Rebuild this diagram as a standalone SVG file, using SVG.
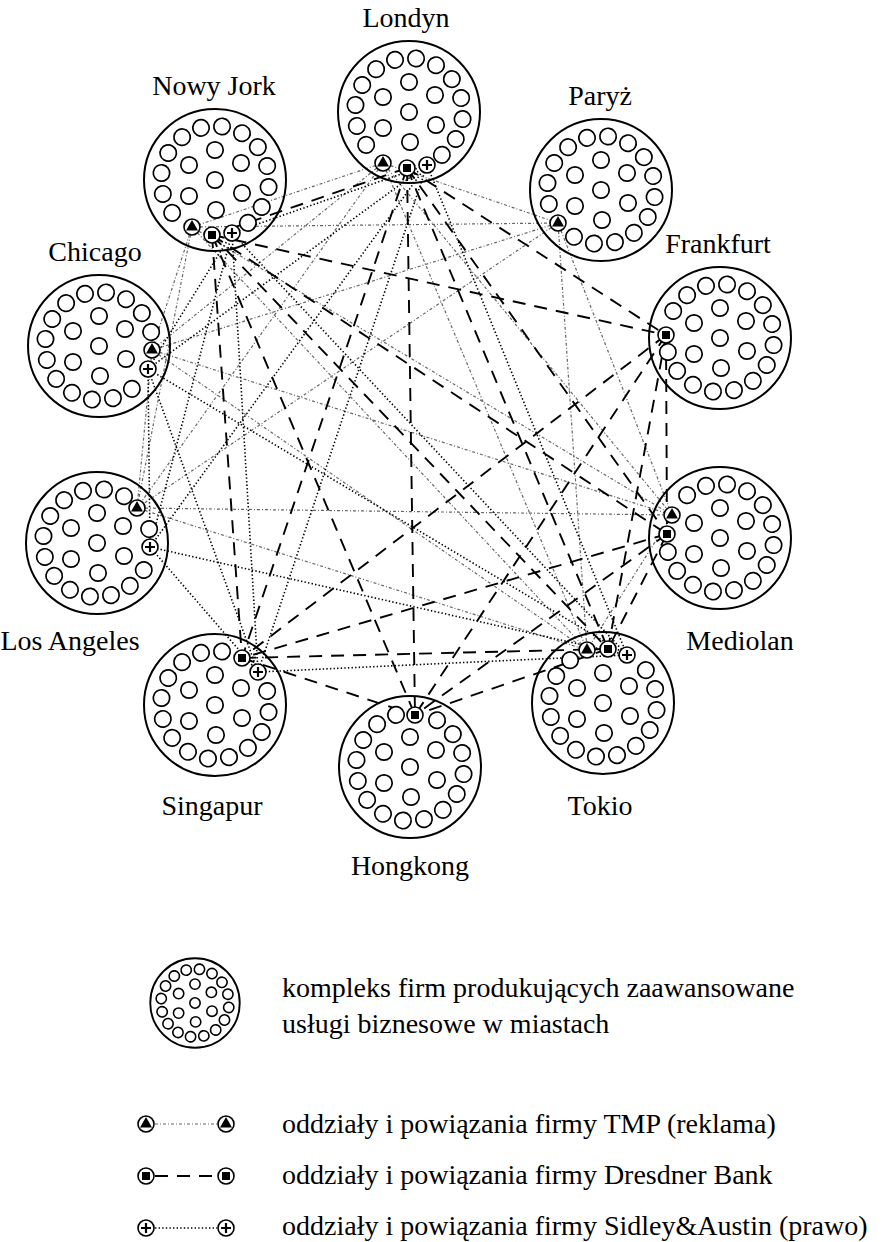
<svg xmlns="http://www.w3.org/2000/svg" xmlns:xlink="http://www.w3.org/1999/xlink" width="892" height="1242" viewBox="0 0 892 1242">
<style>
text{font-family:"Liberation Serif","Times New Roman",serif;font-size:28px;fill:#000}
.lbl{text-anchor:middle}
.big{fill:none;stroke:#000}
.sm{fill:#fff;stroke:#000}
.city{stroke-width:1.7}
.city .big{stroke-width:2}
.sym{fill:#fff;stroke:#000;stroke-width:1.6}
.tmp{stroke:#666;stroke-width:1.2;stroke-dasharray:3 2 1 2;fill:none}
.dre{stroke:#000;stroke-width:1.9;stroke-dasharray:13 9;fill:none}
.sid{stroke:#000;stroke-width:1.6;stroke-dasharray:1.4 2.2;fill:none}
</style>
<defs>
<circle id="rc" cx="0" cy="-54" r="8.2" class="sm"/>
<g id="inner">
<circle class="sm" cx="0" cy="-30" r="8.2"/><circle class="sm" cx="-26" cy="-15" r="8.2"/><circle class="sm" cx="26" cy="-17" r="8.2"/><circle class="sm" cx="0" cy="0" r="8.2"/><circle class="sm" cx="-26" cy="16" r="8.2"/><circle class="sm" cx="27" cy="13" r="8.2"/><circle class="sm" cx="1" cy="30" r="8.2"/>
</g>
<g id="sT"><circle r="8" class="sym"/><path d="M0,-7 L6,3.6 L-6,3.6Z" fill="#000"/></g>
<g id="sS"><circle r="8" class="sym"/><rect x="-4" y="-4" width="8" height="8" fill="#000"/></g>
<g id="sP"><circle r="8" class="sym"/><path d="M-5,0H5M0,-5V5" stroke="#000" stroke-width="2.2"/></g>
</defs>

<g id="connectors">
<g id="tmp-links">
<line class="tmp" x1="383" y1="163" x2="192" y2="227"/>
<line class="tmp" x1="383" y1="163" x2="558" y2="223"/>
<line class="tmp" x1="383" y1="163" x2="152" y2="350"/>
<line class="tmp" x1="383" y1="163" x2="137" y2="508"/>
<line class="tmp" x1="383" y1="163" x2="672" y2="515"/>
<line class="tmp" x1="383" y1="163" x2="587" y2="650"/>
<line class="tmp" x1="192" y1="227" x2="558" y2="223"/>
<line class="tmp" x1="192" y1="227" x2="152" y2="350"/>
<line class="tmp" x1="192" y1="227" x2="137" y2="508"/>
<line class="tmp" x1="192" y1="227" x2="672" y2="515"/>
<line class="tmp" x1="192" y1="227" x2="587" y2="650"/>
<line class="tmp" x1="558" y1="223" x2="152" y2="350"/>
<line class="tmp" x1="558" y1="223" x2="137" y2="508"/>
<line class="tmp" x1="558" y1="223" x2="672" y2="515"/>
<line class="tmp" x1="558" y1="223" x2="587" y2="650"/>
<line class="tmp" x1="152" y1="350" x2="137" y2="508"/>
<line class="tmp" x1="152" y1="350" x2="672" y2="515"/>
<line class="tmp" x1="152" y1="350" x2="587" y2="650"/>
<line class="tmp" x1="137" y1="508" x2="672" y2="515"/>
<line class="tmp" x1="137" y1="508" x2="587" y2="650"/>
<line class="tmp" x1="672" y1="515" x2="587" y2="650"/>
</g>
<g id="dresdner-links">
<line class="dre" x1="407" y1="168" x2="212" y2="235"/>
<line class="dre" x1="407" y1="168" x2="666" y2="335"/>
<line class="dre" x1="407" y1="168" x2="667" y2="534"/>
<line class="dre" x1="407" y1="168" x2="608" y2="649"/>
<line class="dre" x1="407" y1="168" x2="242" y2="658"/>
<line class="dre" x1="407" y1="168" x2="415" y2="715"/>
<line class="dre" x1="212" y1="235" x2="666" y2="335"/>
<line class="dre" x1="212" y1="235" x2="667" y2="534"/>
<line class="dre" x1="212" y1="235" x2="608" y2="649"/>
<line class="dre" x1="212" y1="235" x2="242" y2="658"/>
<line class="dre" x1="212" y1="235" x2="415" y2="715"/>
<line class="dre" x1="666" y1="335" x2="667" y2="534"/>
<line class="dre" x1="666" y1="335" x2="608" y2="649"/>
<line class="dre" x1="666" y1="335" x2="242" y2="658"/>
<line class="dre" x1="666" y1="335" x2="415" y2="715"/>
<line class="dre" x1="667" y1="534" x2="608" y2="649"/>
<line class="dre" x1="667" y1="534" x2="242" y2="658"/>
<line class="dre" x1="667" y1="534" x2="415" y2="715"/>
<line class="dre" x1="608" y1="649" x2="242" y2="658"/>
<line class="dre" x1="608" y1="649" x2="415" y2="715"/>
<line class="dre" x1="242" y1="658" x2="415" y2="715"/>
</g>
<g id="sidley-links">
<line class="sid" x1="427" y1="165" x2="232" y2="233"/>
<line class="sid" x1="427" y1="165" x2="148" y2="369"/>
<line class="sid" x1="427" y1="165" x2="150" y2="547"/>
<line class="sid" x1="427" y1="165" x2="258" y2="672"/>
<line class="sid" x1="427" y1="165" x2="627" y2="655"/>
<line class="sid" x1="232" y1="233" x2="148" y2="369"/>
<line class="sid" x1="232" y1="233" x2="150" y2="547"/>
<line class="sid" x1="232" y1="233" x2="258" y2="672"/>
<line class="sid" x1="232" y1="233" x2="627" y2="655"/>
<line class="sid" x1="148" y1="369" x2="150" y2="547"/>
<line class="sid" x1="148" y1="369" x2="258" y2="672"/>
<line class="sid" x1="148" y1="369" x2="627" y2="655"/>
<line class="sid" x1="150" y1="547" x2="258" y2="672"/>
<line class="sid" x1="150" y1="547" x2="627" y2="655"/>
<line class="sid" x1="258" y1="672" x2="627" y2="655"/>
</g>
</g>

<g id="londyn" class="city" transform="translate(409,112)">
<circle r="71" class="big"/><use href="#inner"/>
<use href="#rc" transform="rotate(-15)"/><use href="#rc" transform="rotate(7.5)"/><use href="#rc" transform="rotate(30)"/><use href="#rc" transform="rotate(52.5)"/><use href="#rc" transform="rotate(75)"/><use href="#rc" transform="rotate(97.5)"/><use href="#rc" transform="rotate(120)"/><use href="#rc" transform="rotate(142.5)"/><use href="#rc" transform="rotate(232.5)"/><use href="#rc" transform="rotate(255)"/><use href="#rc" transform="rotate(277.5)"/><use href="#rc" transform="rotate(300)"/><use href="#rc" transform="rotate(322.5)"/>
<use href="#sT" x="-26" y="51"/><use href="#sS" x="-2" y="56"/><use href="#sP" x="18" y="53"/>
<text class="lbl" x="-3" y="-85">Londyn</text>
</g>

<g id="nowy-jork" class="city" transform="translate(215,180)">
<circle r="71" class="big"/><use href="#inner"/>
<use href="#rc" transform="rotate(-15)"/><use href="#rc" transform="rotate(7.5)"/><use href="#rc" transform="rotate(30)"/><use href="#rc" transform="rotate(52.5)"/><use href="#rc" transform="rotate(75)"/><use href="#rc" transform="rotate(97.5)"/><use href="#rc" transform="rotate(120)"/><use href="#rc" transform="rotate(142.5)"/><use href="#rc" transform="rotate(232.5)"/><use href="#rc" transform="rotate(255)"/><use href="#rc" transform="rotate(277.5)"/><use href="#rc" transform="rotate(300)"/><use href="#rc" transform="rotate(322.5)"/>
<use href="#sT" x="-23" y="47"/><use href="#sS" x="-3" y="55"/><use href="#sP" x="17" y="53"/>
<text class="lbl" x="-1" y="-85">Nowy Jork</text>
</g>

<g id="paryz" class="city" transform="translate(601,190)">
<circle r="71" class="big"/><use href="#inner"/>
<use href="#rc" transform="rotate(-15)"/><use href="#rc" transform="rotate(7.5)"/><use href="#rc" transform="rotate(30)"/><use href="#rc" transform="rotate(52.5)"/><use href="#rc" transform="rotate(75)"/><use href="#rc" transform="rotate(97.5)"/><use href="#rc" transform="rotate(120)"/><use href="#rc" transform="rotate(142.5)"/><use href="#rc" transform="rotate(165)"/><use href="#rc" transform="rotate(187.5)"/><use href="#rc" transform="rotate(210)"/><use href="#rc" transform="rotate(255)"/><use href="#rc" transform="rotate(277.5)"/><use href="#rc" transform="rotate(300)"/><use href="#rc" transform="rotate(322.5)"/>
<use href="#sT" x="-43" y="33"/>
<text class="lbl" x="-1" y="-85">Paryż</text>
</g>

<g id="frankfurt" class="city" transform="translate(720,338)">
<circle r="71" class="big"/><use href="#inner"/>
<use href="#rc" transform="rotate(-15)"/><use href="#rc" transform="rotate(7.5)"/><use href="#rc" transform="rotate(30)"/><use href="#rc" transform="rotate(52.5)"/><use href="#rc" transform="rotate(75)"/><use href="#rc" transform="rotate(97.5)"/><use href="#rc" transform="rotate(120)"/><use href="#rc" transform="rotate(142.5)"/><use href="#rc" transform="rotate(165)"/><use href="#rc" transform="rotate(187.5)"/><use href="#rc" transform="rotate(210)"/><use href="#rc" transform="rotate(232.5)"/><use href="#rc" transform="rotate(255)"/><use href="#rc" transform="rotate(300)"/><use href="#rc" transform="rotate(322.5)"/>
<use href="#sS" x="-54" y="-3"/>
<text class="lbl" x="-2" y="-85">Frankfurt</text>
</g>

<g id="chicago" class="city" transform="translate(99,346)">
<circle r="71" class="big"/><use href="#inner"/>
<use href="#rc" transform="rotate(-15)"/><use href="#rc" transform="rotate(7.5)"/><use href="#rc" transform="rotate(30)"/><use href="#rc" transform="rotate(52.5)"/><use href="#rc" transform="rotate(75)"/><use href="#rc" transform="rotate(142.5)"/><use href="#rc" transform="rotate(165)"/><use href="#rc" transform="rotate(187.5)"/><use href="#rc" transform="rotate(210)"/><use href="#rc" transform="rotate(232.5)"/><use href="#rc" transform="rotate(255)"/><use href="#rc" transform="rotate(277.5)"/><use href="#rc" transform="rotate(300)"/><use href="#rc" transform="rotate(322.5)"/>
<use href="#sT" x="53" y="4"/><use href="#sP" x="49" y="23"/>
<text class="lbl" x="-4" y="-85">Chicago</text>
</g>

<g id="los-angeles" class="city" transform="translate(97,543)">
<circle r="71" class="big"/><use href="#inner"/>
<use href="#rc" transform="rotate(-15)"/><use href="#rc" transform="rotate(7.5)"/><use href="#rc" transform="rotate(30)"/><use href="#rc" transform="rotate(75)"/><use href="#rc" transform="rotate(120)"/><use href="#rc" transform="rotate(142.5)"/><use href="#rc" transform="rotate(165)"/><use href="#rc" transform="rotate(187.5)"/><use href="#rc" transform="rotate(210)"/><use href="#rc" transform="rotate(232.5)"/><use href="#rc" transform="rotate(255)"/><use href="#rc" transform="rotate(277.5)"/><use href="#rc" transform="rotate(300)"/><use href="#rc" transform="rotate(322.5)"/>
<use href="#sT" x="40" y="-35"/><use href="#sP" x="53" y="4"/>
<text class="lbl" x="-27" y="107">Los Angeles</text>
</g>

<g id="mediolan" class="city" transform="translate(720,538)">
<circle r="71" class="big"/><use href="#inner"/>
<use href="#rc" transform="rotate(-15)"/><use href="#rc" transform="rotate(7.5)"/><use href="#rc" transform="rotate(30)"/><use href="#rc" transform="rotate(52.5)"/><use href="#rc" transform="rotate(75)"/><use href="#rc" transform="rotate(97.5)"/><use href="#rc" transform="rotate(120)"/><use href="#rc" transform="rotate(142.5)"/><use href="#rc" transform="rotate(165)"/><use href="#rc" transform="rotate(187.5)"/><use href="#rc" transform="rotate(210)"/><use href="#rc" transform="rotate(232.5)"/><use href="#rc" transform="rotate(255)"/><use href="#rc" transform="rotate(322.5)"/>
<use href="#sT" x="-48" y="-23"/><use href="#sS" x="-53" y="-4"/>
<text class="lbl" x="20" y="112">Mediolan</text>
</g>

<g id="singapur" class="city" transform="translate(215,705)">
<circle r="71" class="big"/><use href="#inner"/>
<use href="#rc" transform="rotate(-15)"/><use href="#rc" transform="rotate(7.5)"/><use href="#rc" transform="rotate(75)"/><use href="#rc" transform="rotate(97.5)"/><use href="#rc" transform="rotate(120)"/><use href="#rc" transform="rotate(142.5)"/><use href="#rc" transform="rotate(165)"/><use href="#rc" transform="rotate(187.5)"/><use href="#rc" transform="rotate(210)"/><use href="#rc" transform="rotate(232.5)"/><use href="#rc" transform="rotate(255)"/><use href="#rc" transform="rotate(277.5)"/><use href="#rc" transform="rotate(300)"/><use href="#rc" transform="rotate(322.5)"/>
<use href="#sS" x="27" y="-47"/><use href="#sP" x="43" y="-33"/>
<text class="lbl" x="-3" y="110">Singapur</text>
</g>

<g id="tokio" class="city" transform="translate(603,703)">
<circle r="71" class="big"/><use href="#inner"/>
<use href="#rc" transform="rotate(52.5)"/><use href="#rc" transform="rotate(75)"/><use href="#rc" transform="rotate(97.5)"/><use href="#rc" transform="rotate(120)"/><use href="#rc" transform="rotate(142.5)"/><use href="#rc" transform="rotate(165)"/><use href="#rc" transform="rotate(187.5)"/><use href="#rc" transform="rotate(210)"/><use href="#rc" transform="rotate(232.5)"/><use href="#rc" transform="rotate(255)"/><use href="#rc" transform="rotate(277.5)"/><use href="#rc" transform="rotate(300)"/><use href="#rc" transform="rotate(322.5)"/>
<use href="#sT" x="-16" y="-53"/><use href="#sS" x="5" y="-54"/><use href="#sP" x="24" y="-48"/>
<text class="lbl" x="-3" y="112">Tokio</text>
</g>

<g id="hongkong" class="city" transform="translate(410,767)">
<circle r="71" class="big"/><use href="#inner"/>
<use href="#rc" transform="rotate(-15)"/><use href="#rc" transform="rotate(30)"/><use href="#rc" transform="rotate(52.5)"/><use href="#rc" transform="rotate(75)"/><use href="#rc" transform="rotate(97.5)"/><use href="#rc" transform="rotate(120)"/><use href="#rc" transform="rotate(142.5)"/><use href="#rc" transform="rotate(165)"/><use href="#rc" transform="rotate(187.5)"/><use href="#rc" transform="rotate(210)"/><use href="#rc" transform="rotate(232.5)"/><use href="#rc" transform="rotate(255)"/><use href="#rc" transform="rotate(277.5)"/><use href="#rc" transform="rotate(300)"/><use href="#rc" transform="rotate(322.5)"/>
<use href="#sS" x="5" y="-52"/>
<text class="lbl" x="0" y="108">Hongkong</text>
</g>

<g id="legend">
<g id="legend-complex" transform="translate(195,1003) scale(0.63)" style="stroke-width:2.5">
<circle r="71" class="big" style="stroke-width:3"/><use href="#inner"/>
<use href="#rc" transform="rotate(-15)"/><use href="#rc" transform="rotate(7.5)"/><use href="#rc" transform="rotate(30)"/><use href="#rc" transform="rotate(52.5)"/><use href="#rc" transform="rotate(75)"/><use href="#rc" transform="rotate(97.5)"/><use href="#rc" transform="rotate(120)"/><use href="#rc" transform="rotate(142.5)"/><use href="#rc" transform="rotate(165)"/><use href="#rc" transform="rotate(187.5)"/><use href="#rc" transform="rotate(210)"/><use href="#rc" transform="rotate(232.5)"/><use href="#rc" transform="rotate(255)"/><use href="#rc" transform="rotate(277.5)"/><use href="#rc" transform="rotate(300)"/><use href="#rc" transform="rotate(322.5)"/>
</g>
<text x="282" y="997">kompleks firm produkujących zaawansowane</text>
<text x="282" y="1033">usługi biznesowe w miastach</text>

<g id="legend-tmp">
<line class="tmp" x1="155" y1="1124" x2="217" y2="1124"/>
<use href="#sT" x="146" y="1124"/><use href="#sT" x="226" y="1124"/>
<text x="282" y="1133">oddziały i powiązania firmy TMP (reklama)</text>
</g>
<g id="legend-dresdner">
<line class="dre" x1="155" y1="1176" x2="217" y2="1176"/>
<use href="#sS" x="146" y="1176"/><use href="#sS" x="226" y="1176"/>
<text x="282" y="1184">oddziały i powiązania firmy Dresdner Bank</text>
</g>
<g id="legend-sidley">
<line class="sid" x1="155" y1="1228" x2="217" y2="1228"/>
<use href="#sP" x="146" y="1228"/><use href="#sP" x="226" y="1228"/>
<text x="282" y="1235">oddziały i powiązania firmy Sidley&amp;Austin (prawo)</text>
</g>
</g>
</svg>
